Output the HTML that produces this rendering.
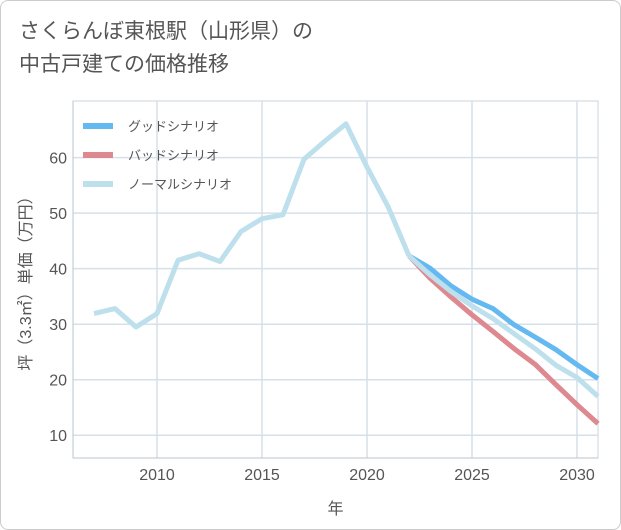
<!DOCTYPE html>
<html><head><meta charset="utf-8">
<style>
body{margin:0;background:#fff;}
#wrap{position:absolute;left:0;top:0;width:619px;height:528px;border:1px solid #ccc;border-radius:8px;background:#fff;overflow:hidden;font-family:"Liberation Sans","Noto Sans CJK JP",sans-serif;}
#title{position:absolute;left:18px;top:14px;font-size:21px;line-height:33px;color:#555;}
svg{position:absolute;left:0;top:0;}
</style></head>
<body>
<div id="wrap">
<div id="title">さくらんぼ東根駅（山形県）の<br>中古戸建ての価格推移</div>
<svg id="chart" width="621" height="530"></svg>
</div>
<script>
const years=[2007,2008,2009,2010,2011,2012,2013,2014,2015,2016,2017,2018,2019,2020,2021,2022];
const history=[31.9,32.8,29.5,31.9,41.5,42.7,41.3,46.7,49,49.7,59.7,63,66.1,58.3,51.2,42.3];
const fYears=[2022,2023,2024,2025,2026,2027,2028,2029,2030,2031];
const good=[42.3,40.1,36.9,34.5,32.8,29.9,27.7,25.4,22.7,20.2];
const bad=[42.3,38.3,34.9,31.7,28.7,25.6,22.8,19.1,15.5,12.1];
const normal=[42.3,38.9,35.9,33.3,31.0,28.3,25.6,22.6,20.4,17.0];
const xTicks=[2010,2015,2020,2025,2030];
const yTicks=[10,20,30,40,50,60];
const L=72,R=597,T=100,B=457,x0=2006,x1=2031,y0=5.9,y1=70.2;
const X=v=>L+(v-x0)/(x1-x0)*(R-L);
const Y=v=>B-(v-y0)/(y1-y0)*(B-T);
const svg=document.getElementById('chart');
const NS='http://www.w3.org/2000/svg';
function mk(t,a,p){const e=document.createElementNS(NS,t);for(const k in a)e.setAttribute(k,a[k]);(p||svg).appendChild(e);return e;}
mk('rect',{x:L,y:T,width:R-L,height:B-T,fill:'#fff',stroke:'#c8d4de','stroke-width':1});
yTicks.forEach(v=>{
 const g=mk('line',{x1:L,x2:R,y1:Y(v),y2:Y(v),stroke:'#d6e0e8','stroke-width':1.5});
 
 
 const t=mk('text',{x:L-6,y:Y(v)+6,'text-anchor':'end','font-size':16,fill:'#555'});
 t.textContent=v;
 
 
});
xTicks.forEach(v=>{
 const g=mk('line',{x1:X(v),x2:X(v),y1:T,y2:B,stroke:'#d6e0e8','stroke-width':1.5});
 
 
 const t=mk('text',{x:X(v),y:B+22,'text-anchor':'middle','font-size':16,fill:'#555'});
 t.textContent=v;
 
 
});
mk('line',{x1:L,x2:L,y1:T,y2:B,stroke:'#b8c4ce','stroke-width':1});
mk('line',{x1:L,x2:R,y1:B,y2:B,stroke:'#b8c4ce','stroke-width':1});
function line(xs,ys,c,name){
 const d=xs.map((x,i)=>(i?'L':'M')+X(x).toFixed(1)+','+Y(ys[i]).toFixed(1)).join('');
 const p=mk('path',{d:d,fill:'none',stroke:c,'stroke-width':5,'stroke-linejoin':'round'});
 
 
}
line(fYears,good,'#64b9f0','good-scenario-line');
line(fYears,bad,'#de8890','bad-scenario-line');
line(fYears,normal,'#bde0ec','normal-scenario-line');
line(years,history,'#bde0ec','history-line');
const leg=[['グッドシナリオ','#64b9f0'],['バッドシナリオ','#de8890'],['ノーマルシナリオ','#bde0ec']];
leg.forEach((l,i)=>{
 const y=125+i*29;
 const r=mk('line',{x1:82,x2:112,y1:y,y2:y,stroke:l[1],'stroke-width':6});
 
 
 const t=mk('text',{x:127,y:y+5,'font-size':13,fill:'#555'});
 t.textContent=l[0];
 
 
});
const xt=mk('text',{x:(L+R)/2,y:513,'text-anchor':'middle','font-size':16,fill:'#555'});
xt.textContent='年';


const yt=mk('text',{x:0,y:0,'text-anchor':'middle','font-size':16,fill:'#555',transform:'translate(30,'+(T+B)/2+') rotate(-90)'});
yt.textContent='坪（3.3㎡）単価（万円）';


</script>
</body></html>
